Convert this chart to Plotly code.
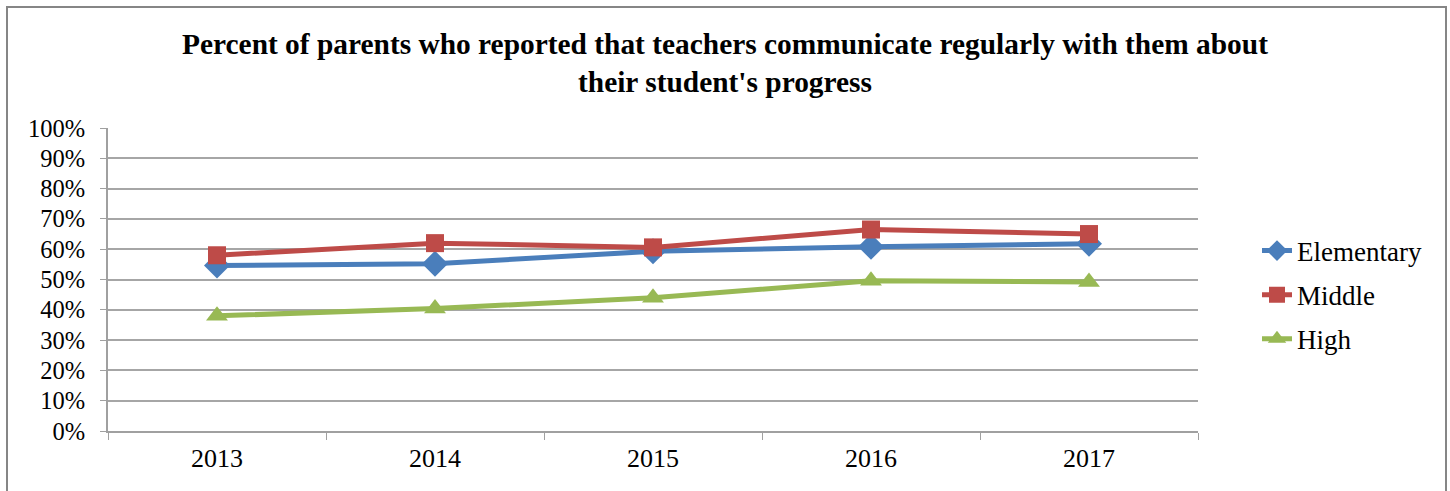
import plotly.graph_objects as go

years = ["2013", "2014", "2015", "2016", "2017"]
elementary = [0.546, 0.552, 0.593, 0.608, 0.618]
middle = [0.580, 0.620, 0.606, 0.665, 0.650]
high = [0.380, 0.404, 0.440, 0.496, 0.492]

series = [
    ("Elementary", elementary, "#4a7ebb", "diamond", 20),
    ("Middle", middle, "#be4b48", "square", 18),
    ("High", high, "#98b954", "triangle-up", 19),
]

FONT = "Liberation Serif, Times New Roman, serif"

fig = go.Figure()
for i, (name, vals, color, sym, size) in enumerate(series):
    fig.add_trace(go.Scatter(
        x=years, y=vals, name=name, mode="lines+markers",
        line=dict(color=color, width=5),
        marker=dict(symbol=sym, size=size, color=color),
        legendgroup=f"g{i}",
    ))

W, H = 1450, 491
L, T = 108, 128
R = W - 1198
B = H - 431
pw = W - L - R
ph = H - T - B

def px_x(p):
    return (p - L) / pw

def px_y(p):
    return (H - B - p) / ph

fig.add_shape(type="rect", xref="paper", yref="paper",
              x0=px_x(7), x1=px_x(1446), y0=px_y(510), y1=px_y(7),
              line=dict(color="#868686", width=2), layer="below")

fig.update_layout(
    width=W, height=H,
    margin=dict(l=L, r=R, t=T, b=B),
    paper_bgcolor="white", plot_bgcolor="white",
    font=dict(family=FONT, color="black", size=25),
    title=dict(
        text="<b>Percent of parents who reported that teachers communicate regularly with them about<br>their student's progress</b>",
        x=0.5, xanchor="center", xref="container",
        y=(H - 54) / H, yanchor="middle", yref="container",
        font=dict(family=FONT, size=29.4, color="black"),
    ),
    legend=dict(
        x=px_x(1257), xanchor="left", y=px_y(295), yanchor="middle",
        font=dict(family=FONT, size=27, color="black"),
        tracegroupgap=6, bgcolor="rgba(0,0,0,0)",
    ),
    xaxis=dict(
        type="category", range=[-0.5, 4.5], tickson="boundaries",
        ticks="outside", ticklen=7,
        tickcolor="#a0a0a0", showline=True, linecolor="#a0a0a0", linewidth=2,
        showgrid=False, tickfont=dict(family=FONT, size=26), fixedrange=True,
        ticklabelstandoff=3,
    ),
    yaxis=dict(
        range=[0, 1], dtick=0.1, tickformat=".0%", ticks="outside", ticklen=6,
        tickcolor="#a0a0a0", showline=True, linecolor="#a0a0a0", linewidth=2,
        showgrid=True, gridcolor="#a6a6a6", gridwidth=1.5, zeroline=False,
        tickfont=dict(family=FONT, size=24.5), ticklabelstandoff=10,
        fixedrange=True,
    ),
)

fig.write_html("out.html", config={"displayModeBar": False},
               post_script="document.body.style.margin='0';")
